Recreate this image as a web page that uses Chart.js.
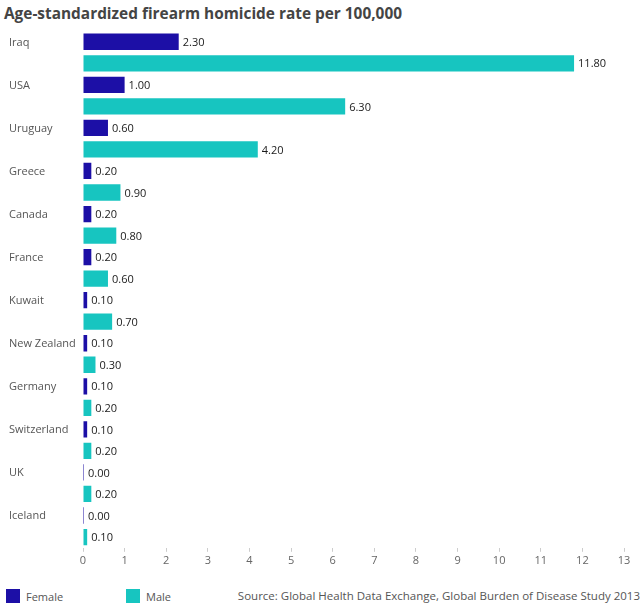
<!DOCTYPE html>
<html>
<head>
<meta charset="utf-8">
<script src="https://cdn.jsdelivr.net/npm/chart.js@4.4.1/dist/chart.umd.min.js"></script>
<style>
  html, body { margin: 0; padding: 0; background: #fff; }
  body { width: 643px; height: 610px; position: relative; overflow: hidden; font-family: "Open Sans", sans-serif; }
  #title { position: absolute; left: 4px; top: 4px; line-height: 20px; font-size: 15.4px; font-weight: bold; color: #444; white-space: nowrap; }
  #wrap { position: absolute; left: 0; top: 0; width: 643px; height: 575px; }
  .leg { position: absolute; top: 589px; height: 14px; display: flex; align-items: center; font-size: 11px; color: #555; white-space: nowrap; }
  .sw { width: 14px; height: 14px; margin-right: 6px; }
  #source { position: absolute; right: 3px; top: 587px; font-size: 11.5px; color: #555; white-space: nowrap; line-height: 18px; }
</style>
</head>
<body>
<div id="title">Age-standardized firearm homicide rate per 100,000</div>
<div id="wrap"><canvas id="c"></canvas></div>
<div class="leg" style="left:6px"><span class="sw" style="background:#1c0fa6"></span>Female</div>
<div class="leg" style="left:126px"><span class="sw" style="background:#17c5c0"></span>Male</div>
<div id="source">Source: Global Health Data Exchange, Global Burden of Disease Study 2013</div>
<script>
const countries = ["Iraq", "USA", "Uruguay", "Greece", "Canada", "France", "Kuwait", "New Zealand", "Germany", "Switzerland", "UK", "Iceland"];
const femaleRates = [2.30, 1.00, 0.60, 0.20, 0.20, 0.20, 0.10, 0.10, 0.10, 0.10, 0.00, 0.00];
const maleRates = [11.80, 6.30, 4.20, 0.90, 0.80, 0.60, 0.70, 0.30, 0.20, 0.20, 0.20, 0.10];
const xTicks = [0, 1, 2, 3, 4, 5, 6, 7, 8, 9, 10, 11, 12, 13];

const FEMALE_COLOR = "#1c0fa6";
const MALE_COLOR = "#17c5c0";

const valueLabels = {
  id: "valueLabels",
  afterDatasetsDraw(chart) {
    const ctx = chart.ctx;
    ctx.save();
    ctx.font = "11px 'Open Sans', sans-serif";
    ctx.fillStyle = "#1a1a1a";
    ctx.textAlign = "left";
    ctx.textBaseline = "middle";
    chart.data.datasets.forEach((ds, di) => {
      const meta = chart.getDatasetMeta(di);
      meta.data.forEach((bar, i) => {
        ctx.fillText(Number(ds.data[i]).toFixed(2), bar.x + 4, bar.y + 1);
      });
    });
    ctx.restore();
  }
};

new Chart(document.getElementById("c"), {
  type: "bar",
  data: {
    labels: countries,
    datasets: [
      { label: "Female", data: femaleRates, backgroundColor: FEMALE_COLOR },
      { label: "Male", data: maleRates, backgroundColor: MALE_COLOR }
    ]
  },
  options: {
    indexAxis: "y",
    responsive: true,
    maintainAspectRatio: false,
    animation: false,
    layout: { padding: { left: 9, right: 19, top: 31, bottom: 6 } },
    datasets: { bar: { categoryPercentage: 1.0, barPercentage: 0.757, minBarLength: 1 } },
    plugins: { legend: { display: false }, title: { display: false }, tooltip: { enabled: false } },
    scales: {
      x: {
        min: 0, max: 13,
        afterBuildTicks: (s) => { s.ticks = xTicks.map(v => ({ value: v })); },
        grid: { drawOnChartArea: false, drawTicks: true, tickLength: 4, color: "#ccc" },
        border: { display: false },
        ticks: { padding: 2, color: "#666", font: { family: "'Open Sans', sans-serif", size: 11 } }
      },
      y: {
        afterFit: (s) => { s.width = 74; },
        grid: { display: false },
        border: { display: false },
        ticks: { crossAlign: "far", labelOffset: -10, color: "#555", font: { family: "'Open Sans', sans-serif", size: 11 } }
      }
    }
  },
  plugins: [valueLabels]
});
</script>
</body>
</html>
